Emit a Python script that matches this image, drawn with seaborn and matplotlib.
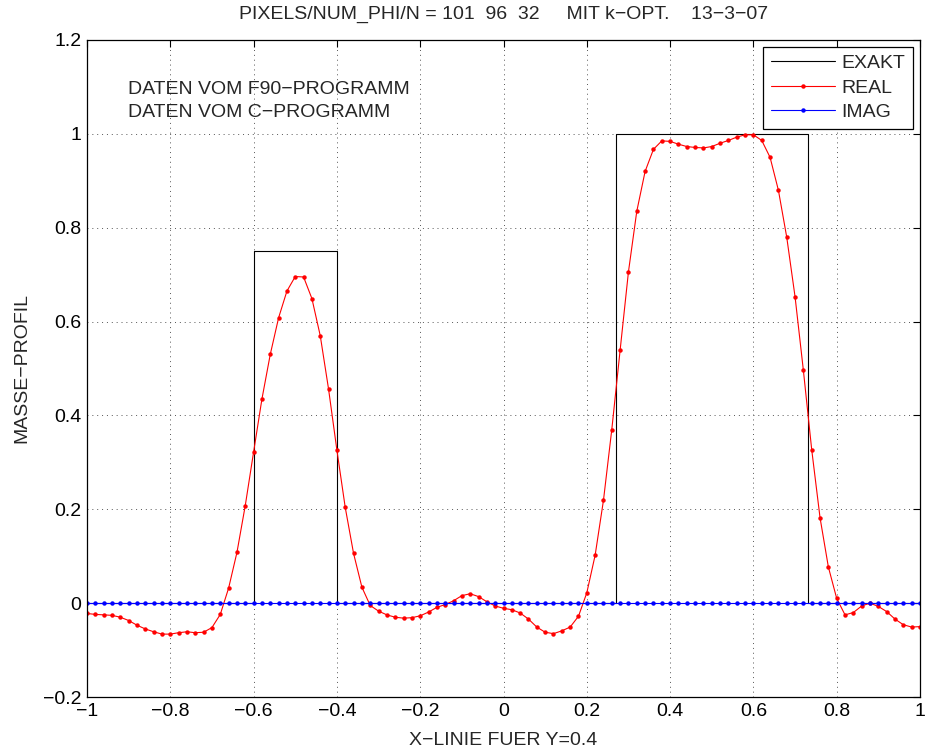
import numpy as np
import pandas as pd
import matplotlib
matplotlib.use("Agg")
import matplotlib.pyplot as plt
import seaborn as sns

# ---- data ----
x_grid = np.linspace(-1.0, 1.0, 101)
real_vals = [
    -0.022, -0.024, -0.025, -0.026, -0.030, -0.037, -0.047, -0.055, -0.061, -0.066,
    -0.066, -0.063, -0.061, -0.063, -0.062, -0.052, -0.024, 0.032, 0.108, 0.208,
    0.322, 0.435, 0.530, 0.608, 0.665, 0.696, 0.695, 0.649, 0.570, 0.456,
    0.326, 0.204, 0.106, 0.034, -0.005, -0.017, -0.025, -0.030, -0.032, -0.031,
    -0.027, -0.019, -0.009, -0.003, 0.005, 0.016, 0.020, 0.014, 0.003, -0.006,
    -0.011, -0.014, -0.021, -0.034, -0.051, -0.062, -0.065, -0.059, -0.051, -0.028,
    0.022, 0.102, 0.219, 0.370, 0.539, 0.706, 0.835, 0.920, 0.967, 0.985,
    0.984, 0.978, 0.973, 0.971, 0.970, 0.973, 0.980, 0.986, 0.993, 0.998,
    0.998, 0.986, 0.950, 0.880, 0.780, 0.653, 0.496, 0.327, 0.182, 0.077,
    0.010, -0.025, -0.020, -0.006, 0.000, -0.007, -0.018, -0.034, -0.046, -0.051,
    -0.050,
]
imag_vals = [0.0] * 101
exakt_x = [-1.0, -0.6, -0.6, -0.4, -0.4, 0.27, 0.27, 0.73, 0.73, 1.0]
exakt_y = [0.0, 0.0, 0.75, 0.75, 0.0, 0.0, 1.0, 1.0, 0.0, 0.0]

title = "PIXELS/NUM_PHI/N = 101  96  32     MIT k\u2212OPT.    13\u22123\u221207"
xlabel = "X\u2212LINIE FUER Y=0.4"
ylabel = "MASSE\u2212PROFIL"
notes = ["DATEN VOM F90\u2212PROGRAMM", "DATEN VOM C\u2212PROGRAMM"]
xticks = [-1, -0.8, -0.6, -0.4, -0.2, 0, 0.2, 0.4, 0.6, 0.8, 1]
yticks = [-0.2, 0, 0.2, 0.4, 0.6, 0.8, 1, 1.2]

FS = 14

# ---- style ----
sns.set_style("white")
plt.rcParams["font.family"] = ["Liberation Sans", "DejaVu Sans"]
plt.rcParams["axes.unicode_minus"] = True

fig = plt.figure(figsize=(9.26, 7.53), dpi=100)
ax = fig.add_axes([87 / 926, 1 - 697 / 753, (920 - 87) / 926, (697 - 40) / 753])

df_ex = pd.DataFrame({"x": exakt_x, "y": exakt_y})
df_re = pd.DataFrame({"x": x_grid, "y": real_vals})
df_im = pd.DataFrame({"x": x_grid, "y": imag_vals})

sns.lineplot(data=df_ex, x="x", y="y", ax=ax, color="black", linewidth=0.8,
             sort=False, estimator=None, label="EXAKT")
sns.lineplot(data=df_re, x="x", y="y", ax=ax, color="red", linewidth=0.8,
             marker="o", markersize=3.2, markeredgewidth=0, sort=False,
             estimator=None, label="REAL")
sns.lineplot(data=df_im, x="x", y="y", ax=ax, color="blue", linewidth=0.8,
             marker="o", markersize=3.2, markeredgewidth=0, sort=False,
             estimator=None, label="IMAG")

ax.set_xlim(-1, 1)
ax.set_ylim(-0.2, 1.2)
ax.set_xticks(xticks)
ax.set_yticks(yticks)
ax.set_xticklabels([f"{t:g}".replace("-", "\u2212") for t in xticks])
ax.set_yticklabels([f"{t:g}".replace("-", "\u2212") for t in yticks])
ax.tick_params(direction="in", length=5, width=0.8, top=True, right=True,
               labelsize=FS, colors="black", pad=4)
ax.grid(True, linestyle=(0, (1, 4)), color="#555555", linewidth=0.7)
for s in ax.spines.values():
    s.set_color("black")
    s.set_linewidth(0.9)

ax.set_title(title, fontsize=FS, pad=15)
ax.set_xlabel(xlabel, fontsize=FS, labelpad=9)
ax.set_ylabel(ylabel, fontsize=FS, labelpad=9)

ax.text(-0.902, 1.094, notes[0], fontsize=FS, va="center", ha="left")
ax.text(-0.902, 1.045, notes[1], fontsize=FS, va="center", ha="left")

leg = ax.legend(loc="upper right", fontsize=FS, fancybox=False, framealpha=1,
                edgecolor="black", borderaxespad=0.35, handlelength=3.3,
                handletextpad=0.35, labelspacing=0.35, borderpad=0.4)
leg.get_frame().set_linewidth(0.9)
for h in leg.get_lines():
    h.set_markersize(3.2)

fig.savefig("out.png", dpi=100)
